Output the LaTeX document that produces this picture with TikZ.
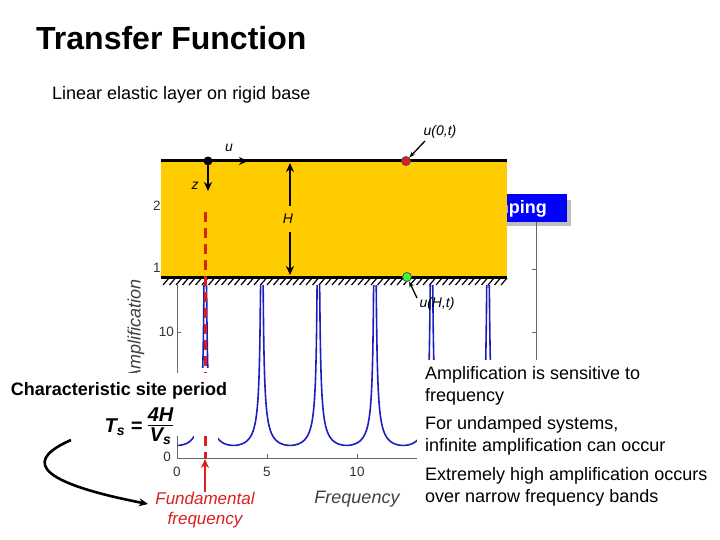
\documentclass[tikz,border=0pt]{standalone}
\usepackage{fontspec}
\setmainfont{Liberation Sans}
\usetikzlibrary{arrows.meta,patterns}
\definecolor{soil}{RGB}{255,204,0}
\definecolor{cblue}{RGB}{30,30,190}
\definecolor{cred}{RGB}{220,30,30}
\begin{document}
\begin{tikzpicture}[x=1pt,y=-1pt,
  lbl/.style={inner sep=1pt,font=\fontsize{14}{16}\selectfont\itshape},
  tick/.style={inner sep=1pt,font=\fontsize{13.5}{15}\selectfont,text=black!80},
  body/.style={align=left,anchor=north west,inner sep=0pt,font=\fontsize{18}{22}\selectfont},
  arr/.style={-{Stealth[length=9pt,width=8pt]},line width=2.2pt}]
\useasboundingbox (0,0) rectangle (720,540);
% title
\node[anchor=base west,inner sep=0,font=\fontsize{32}{35}\selectfont\bfseries] (title) at (36,50) {Transfer Function};
\node[anchor=base west,inner sep=0,font=\fontsize{18}{20}\selectfont] (sub) at (52,100) {Linear elastic layer on rigid base};
% blue Damping box
\fill[black!25] (446,200) rectangle (571,226);
\fill[blue] (440,194) rectangle (567,222);
\node[anchor=east,inner sep=0,text=white,font=\fontsize{18}{20}\selectfont\bfseries] (damp) at (547,209) {Damping};
% right axis
\draw[black!60] (536,222) -- (536,360) (536,269) -- (532,269) (536,332) -- (532,332);
% curve
\begin{scope}
\clip (150,285) rectangle (540,458);
\draw[cblue,line width=1.6pt] plot[domain=0:18,samples=1200] (177+18*\x,{458-12.6*min(14,1/max(0.07,abs(cos(\x r))))});
\end{scope}
% axes
\draw[black!60] (177,285) -- (177,458) -- (417,458);
\draw[black!60] (177,332) -- (181,332) (267,458) -- (267,454) (357,458) -- (357,454);
\node[tick,anchor=east] (t10) at (175,332) {10};
\node[tick,anchor=east] (t0) at (172,457) {0};
\node[tick] (x0) at (177,472) {0};
\node[tick] (x5) at (267,472) {5};
\node[tick] (x10) at (357,472) {10};
\node[tick] (t2) at (157,206) {2};
\node[tick] (t1) at (157,268) {1};
\node[rotate=90,inner sep=0,font=\fontsize{18}{20}\selectfont\itshape,text=black!75] (amp) at (136,330) {Amplification};
\node[inner sep=0,font=\fontsize{18}{20}\selectfont\itshape,text=black!75] (freq) at (357,499) {Frequency};
% white masks
\fill[white] (417,360) rectangle (720,540);
\fill[white] (0,374) rectangle (176,445);
\fill[white] (194,368) rectangle (218,457);
% soil layer
\fill[soil] (161,161) rectangle (507,277);
\draw[line width=3pt] (161,161) -- (507,161);
\draw[line width=3pt] (161,277) -- (507,277);
\foreach \i in {0,...,52} \draw[line width=1.2pt] ({163+6.5*\i},285) -- ({169+6.5*\i},278);
% red dashed
\draw[cred,line width=3pt,dash pattern=on 10pt off 6pt] (205,212) -- (205,458);
\fill[white] (0,373) rectangle (232,436);
% markers
\fill (208,161) circle (4.5pt);
\coordinate (o) at (208,161);
\coordinate (ue) at (248,161);
\coordinate (ze) at (208,191);
\draw[arr] (o) -- (ue);
\draw[arr] (o) -- (ze);
\node[lbl] (u) at (229,148) {u};
\node[lbl] (z) at (195,186) {z};
\coordinate (ht) at (290,163);
\coordinate (hb) at (290,275);
\node[lbl] (H) at (288,219) {H};
\draw[arr] (290,206) -- (ht);
\draw[arr] (290,232) -- (hb);
\node[circle,fill=cred,draw=black!70,line width=0.8pt,inner sep=0,minimum size=9pt] (rd) at (406,161) {};
\node[circle,fill=green!80,draw=black!70,line width=0.8pt,inner sep=0,minimum size=9pt] (gd) at (407,277) {};
\node[lbl] (u0) at (440,132) {u(0,\textit{t})};
\node[lbl] (uH) at (437,304) {u(H,\textit{t})};
\draw[-{Stealth[length=6pt]},line width=1.3pt] (425,141) -- (rd);
\draw[-{Stealth[length=6pt]},line width=1.3pt] (417,298) -- (gd);
% left text
\node[inner sep=0,font=\fontsize{18}{20}\selectfont\bfseries] (csp) at (119,391) {Characteristic site period};
\node[inner sep=0,font=\fontsize{20}{22}\selectfont\bfseries\itshape] (ts) at (139,427) {T\textsubscript{s} = \begin{tabular}{@{}c@{}}4H\\[-3pt]\hline V\textsubscript{s}\end{tabular}};
\node[text=cred,align=center,inner sep=0,font=\fontsize{17}{20}\selectfont\itshape] (fund) at (205,510) {Fundamental\\frequency};
\coordinate (fa) at (205,492);
\coordinate (fb) at (205,459);
\draw[cred,arr,line width=2.6pt] (fa) -- (fb);
\coordinate (ca) at (71,440);
\coordinate (cb) at (148,504);
\draw[arr,line width=2.6pt] (ca) .. controls (30,458) and (25,480) .. (cb);
% right text
\node[body] (b1) at (425,366) {Amplification is sensitive to\\frequency};
\node[body] (b2) at (425,416) {For undamped systems,\\infinite amplification can occur};
\node[body] (b3) at (425,467) {Extremely high amplification occurs\\over narrow frequency bands};
\end{tikzpicture}
\end{document}
